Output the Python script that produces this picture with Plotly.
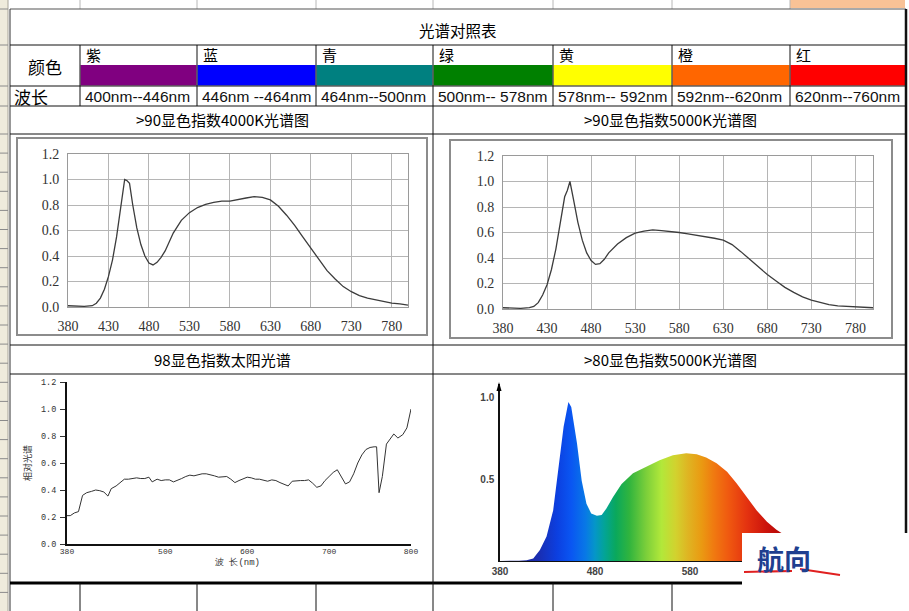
import plotly.graph_objects as go

W, H = 909, 611

# ---------------- table texts ----------------
table_title = "光谱对照表"
color_label = "颜色"
wave_label = "波长"
color_names = ["紫", "蓝", "青", "绿", "黄", "橙", "红"]
swatch_colors = ["#800080", "#0000ff", "#008080", "#008000", "#ffff00", "#ff6600", "#ff0000"]
wave_ranges = ["400nm--446nm", "446nm --464nm", "464nm--500nm", "500nm-- 578nm",
               "578nm-- 592nm", "592nm--620nm", "620nm--760nm"]
chart_titles = [">90显色指数4000K光谱图", ">90显色指数5000K光谱图",
                "98显色指数太阳光谱", ">80显色指数5000K光谱图"]

# ---------------- chart data ----------------
wl_4000k = [380, 390, 400, 410, 415, 420, 425, 430, 435, 440, 445, 450, 453, 456, 460, 465, 470, 475,
            480, 485, 490, 495, 500, 510, 520, 530, 540, 550, 560, 570, 580, 590, 600, 610, 620, 630,
            640, 650, 660, 670, 680, 690, 700, 710, 720, 730, 740, 750, 760, 770, 780, 790, 800]
val_4000k = [0.01, 0.005, 0.005, 0.01, 0.03, 0.07, 0.14, 0.24, 0.37, 0.55, 0.78, 1.0, 0.99, 0.97,
             0.8, 0.62, 0.49, 0.40, 0.345, 0.33, 0.35, 0.39, 0.44, 0.58, 0.68, 0.74, 0.78, 0.805,
             0.82, 0.83, 0.83, 0.845, 0.855, 0.865, 0.86, 0.84, 0.79, 0.72, 0.64, 0.55, 0.46, 0.37,
             0.285, 0.22, 0.16, 0.12, 0.09, 0.07, 0.055, 0.04, 0.03, 0.025, 0.015]

wl_5000k = [380, 390, 400, 410, 415, 420, 425, 430, 435, 440, 445, 450, 453, 456, 460, 465, 470, 475,
            480, 485, 490, 495, 500, 510, 520, 530, 540, 550, 560, 570, 580, 590, 600, 610, 620, 630,
            640, 650, 660, 670, 680, 690, 700, 710, 720, 730, 740, 750, 760, 770, 780, 790, 800]
val_5000k = [0.01, 0.005, 0.005, 0.01, 0.02, 0.05, 0.11, 0.19, 0.31, 0.47, 0.66, 0.88, 0.93, 1.0,
             0.86, 0.68, 0.54, 0.44, 0.38, 0.35, 0.355, 0.39, 0.44, 0.51, 0.56, 0.595, 0.61, 0.62,
             0.615, 0.61, 0.60, 0.59, 0.58, 0.57, 0.555, 0.54, 0.505, 0.45, 0.39, 0.33, 0.27, 0.22,
             0.17, 0.13, 0.095, 0.07, 0.05, 0.035, 0.025, 0.02, 0.015, 0.012, 0.01]

wl_sun = [380, 384, 389, 394, 399, 404, 410, 415, 420, 425, 430, 434, 440, 445, 450, 455, 460, 465,
          470, 475, 480, 484, 490, 495, 500, 505, 510, 515, 520, 525, 530, 535, 540, 545, 550, 555,
          560, 565, 570, 575, 580, 585, 590, 595, 600, 605, 610, 615, 620, 625, 630, 635, 640, 645,
          650, 655, 660, 665, 670, 675, 680, 685, 690, 695, 700, 705, 710, 715, 720, 725, 730, 735,
          740, 745, 750, 755, 758, 761, 765, 770, 775, 779, 784, 790, 795, 800]
val_sun = [0.21, 0.21, 0.23, 0.24, 0.36, 0.38, 0.39, 0.40, 0.395, 0.385, 0.355, 0.41, 0.43, 0.455,
           0.48, 0.48, 0.485, 0.49, 0.485, 0.485, 0.495, 0.46, 0.48, 0.47, 0.475, 0.475, 0.46, 0.47,
           0.485, 0.50, 0.51, 0.505, 0.515, 0.52, 0.52, 0.515, 0.505, 0.495, 0.495, 0.50, 0.48,
           0.455, 0.47, 0.485, 0.495, 0.49, 0.48, 0.48, 0.47, 0.465, 0.475, 0.47, 0.455, 0.445,
           0.43, 0.465, 0.47, 0.47, 0.47, 0.475, 0.45, 0.42, 0.43, 0.47, 0.50, 0.53, 0.55, 0.50,
           0.445, 0.46, 0.52, 0.60, 0.66, 0.70, 0.715, 0.72, 0.72, 0.38, 0.50, 0.74, 0.78, 0.815,
           0.785, 0.81, 0.86, 1.0]

wl_80 = [380, 390, 400, 408, 415, 422, 429, 436, 441, 447, 452, 455, 461, 466, 471, 476, 482, 487,
         492, 499, 508, 520, 534, 548, 562, 576, 587, 597, 608, 619, 629, 640, 650, 661, 671, 682,
         690, 700, 710, 720, 730, 740, 750, 760, 770, 780]
val_80 = [0.0, 0.0, 0.002, 0.005, 0.016, 0.067, 0.15, 0.31, 0.555, 0.82, 0.97, 0.94, 0.72, 0.49,
          0.35, 0.29, 0.276, 0.28, 0.32, 0.39, 0.47, 0.535, 0.575, 0.615, 0.646, 0.657, 0.652, 0.632,
          0.596, 0.545, 0.474, 0.39, 0.31, 0.24, 0.19, 0.15, 0.118, 0.085, 0.06, 0.04, 0.025, 0.015,
          0.01, 0.005, 0.003, 0.0]

# tick labels
yticks_12 = [0, 0.2, 0.4, 0.6, 0.8, 1.0, 1.2]
yticktext_12 = ["0.0", "0.2", "0.4", "0.6", "0.8", "1.0", "1.2"]
xticks_a = [380, 430, 480, 530, 580, 630, 680, 730, 780]
xticks_sun = [380, 500, 600, 700, 800]
xticks_80 = [380, 480, 580]
yticks_80 = [0.5, 1.0]
yticktext_80 = ["0.5", "1.0"]
sun_xtitle = "波 长(nm)"
sun_ytitle = "相对光谱"
watermark = "航向"

# spectrum gradient (style)
grad_scale = [
    [0.000, "#1b1f86"], [0.100, "#1a2db0"], [0.150, "#0c3fe0"], [0.1875, "#0a56f2"],
    [0.225, "#0878e6"], [0.250, "#0596c8"], [0.2750, "#03a496"], [0.305, "#0aa85c"],
    [0.3400, "#30b43e"], [0.385, "#7ccf3a"], [0.425, "#b2e83a"], [0.4625, "#d2d22e"],
    [0.495, "#dfb422"], [0.530, "#ea9a12"], [0.5625, "#f07a10"], [0.600, "#f05a10"],
    [0.650, "#e43210"], [0.700, "#cc140c"], [0.750, "#b00606"], [0.800, "#9c0000"],
    [1.000, "#800000"]]

# ---------------- helpers ----------------
def fx(x):
    return x / W


def fy(y):
    return 1 - y / H


shapes = []
annotations = []


def line(x0, y0, x1, y1, color="#000", width=1, layer="above"):
    shapes.append(dict(type="line", xref="paper", yref="paper", x0=fx(x0), y0=fy(y0),
                       x1=fx(x1), y1=fy(y1), line=dict(color=color, width=width), layer=layer))


def rect(x0, y0, x1, y1, fill=None, color=None, width=0, layer="below"):
    d = dict(type="rect", xref="paper", yref="paper", x0=fx(x0), y0=fy(y0), x1=fx(x1), y1=fy(y1),
             layer=layer, line=dict(width=width, color=color if color else "rgba(0,0,0,0)"))
    d["fillcolor"] = fill if fill else "rgba(0,0,0,0)"
    shapes.append(d)


def text(x, y, s, size, family="Noto Sans CJK SC", color="#000", xanchor="center", angle=0,
         weight="normal"):
    annotations.append(dict(x=fx(x), y=fy(y), xref="paper", yref="paper", text=s, showarrow=False,
                            xanchor=xanchor, yanchor="middle", textangle=angle,
                            font=dict(size=size, family=family, color=color, weight=weight)))


# ---------------- spreadsheet frame ----------------
col_x = [10, 80, 197, 316, 433, 553, 672, 790, 906]

# left row-header strip
rect(0, 0, 8, H, fill="#efebdc")
line(8, 0, 8, H, color="#a8a49a", width=1)
row_marks = [9, 45, 86, 106, 134] + [134 + 19.1 * k for k in range(1, 25)]
for yy in row_marks:
    if yy < H:
        line(0, yy, 8, yy, color="#8a8a8a", width=1)

# top partial row
for xx in col_x[1:8]:
    line(xx, 0, xx, 9, color="#b8b8b8", width=1)
rect(790, 0, 905, 8, fill="#f9c296")
line(10, 9, 906, 9, color="#555", width=1.2)

# table borders
line(10, 9, 10, 611, color="#333", width=1)
line(906, 9, 906, 533, color="#111", width=2.5)
for yy in [45, 86, 106, 134, 345, 374]:
    line(10, yy, 906, yy, color="#111", width=1)
line(10, 583, 906, 583, color="#000", width=3)
for xx in col_x[1:8]:
    line(xx, 45, xx, 106, color="#111", width=1)
line(433, 106, 433, 583, color="#111", width=1)
for xx in col_x[1:7]:
    line(xx, 583, xx, 611, color="#111", width=1)

# colour swatches and labels
for i in range(7):
    x0, x1 = col_x[i + 1], col_x[i + 2]
    rect(x0 + 0.5, 65, x1 - 0.5, 85.5, fill=swatch_colors[i])
    text(x0 + 4, 54, color_names[i], 15, xanchor="left")
    text(x0 + 3, 96, wave_ranges[i], 15.5, family="Liberation Sans", color="#111", xanchor="left")

text(458, 30, table_title, 15.5)
text(45, 66, color_label, 17)
text(12, 96, wave_label, 17, xanchor="left")

text(222, 120, chart_titles[0], 15)
text(670, 120, chart_titles[1], 15)
text(222, 359, chart_titles[2], 15)
text(670, 359, chart_titles[3], 15)

# frames of the two gridded charts
rect(17, 138, 427, 335, color="#8c8c8c", width=2)
rect(450, 140, 892, 338, color="#8c8c8c", width=2)

# sun chart titles
text(237, 562, sun_xtitle, 9, family="Liberation Mono", color="#333")
text(27, 463, sun_ytitle, 9, color="#333", angle=-90)

# arrow on y axis of chart 4
shapes.append(dict(type="path", xref="paper", yref="paper",
                   path="M {} {} L {} {} L {} {} Z".format(fx(496.5), fy(391), fx(499), fy(382),
                                                            fx(501.5), fy(391)),
                   fillcolor="#000", line=dict(width=0), layer="above"))

# watermark patch
rect(742, 533, 909, 611, fill="#ffffff", layer="above")
line(744, 572, 792, 571, color="#e02020", width=2)
line(800, 569, 840, 575, color="#e02020", width=2)
text(784, 558, watermark, 27, color="#1f3f8f", weight="bold")

# ---------------- traces ----------------
fig = go.Figure()
fig.add_trace(go.Scatter(x=wl_4000k, y=val_4000k, mode="lines",
                         line=dict(color="#3c3c3c", width=1.3), xaxis="x", yaxis="y",
                         hoverinfo="skip", showlegend=False))
fig.add_trace(go.Scatter(x=wl_5000k, y=val_5000k, mode="lines",
                         line=dict(color="#3c3c3c", width=1.3), xaxis="x2", yaxis="y2",
                         hoverinfo="skip", showlegend=False))
fig.add_trace(go.Scatter(x=wl_sun, y=val_sun, mode="lines",
                         line=dict(color="#333", width=1), xaxis="x3", yaxis="y3",
                         hoverinfo="skip", showlegend=False))
fig.add_trace(go.Scatter(x=wl_80, y=val_80, mode="lines",
                         line=dict(color="rgba(0,0,0,0)", width=0), fill="tozeroy",
                         fillgradient=dict(type="horizontal", colorscale=grad_scale,
                                           start=380, stop=780),
                         xaxis="x4", yaxis="y4", hoverinfo="skip", showlegend=False))

serif_font = dict(family="Liberation Serif", size=14, color="#333")
mono_font = dict(family="Liberation Mono", size=8.5, color="#333")
bold_font = dict(family="Liberation Sans", size=10, color="#444", weight="bold")


def grid_x(domain, anchor):
    return dict(domain=domain, anchor=anchor, range=[380, 800], tickmode="array",
                tickvals=xticks_a, showgrid=True, gridcolor="#b5b5b5", gridwidth=1,
                showline=True, mirror=True, linecolor="#9a9a9a", linewidth=1, zeroline=False,
                ticks="", tickfont=serif_font, ticklabelstandoff=6, fixedrange=True)


def grid_y(domain, anchor):
    return dict(domain=domain, anchor=anchor, range=[0, 1.2], tickmode="array",
                tickvals=yticks_12, ticktext=yticktext_12, showgrid=True, gridcolor="#b5b5b5",
                gridwidth=1, showline=True, mirror=True, linecolor="#9a9a9a", linewidth=1,
                zeroline=False, ticks="", tickfont=serif_font, ticklabelstandoff=5,
                fixedrange=True)


fig.update_layout(
    width=W, height=H, margin=dict(l=0, r=0, t=0, b=0), autosize=False,
    template="none", paper_bgcolor="#ffffff", plot_bgcolor="rgba(0,0,0,0)",
    showlegend=False, shapes=shapes, annotations=annotations,
    xaxis=grid_x([fx(68), fx(408)], "y"),
    yaxis=grid_y([fy(307), fy(154)], "x"),
    xaxis2=grid_x([fx(503), fx(873)], "y2"),
    yaxis2=grid_y([fy(309), fy(156)], "x2"),
    xaxis3=dict(domain=[fx(67), fx(411)], anchor="y3", range=[380, 800], tickmode="array",
                tickvals=xticks_sun, showgrid=False, zeroline=False, showline=True,
                linecolor="#111", linewidth=1.5, ticks="", tickcolor="#333",
                tickfont=dict(family="Liberation Mono", size=8, color="#333"),
                ticklabelstandoff=-1, fixedrange=True),
    yaxis3=dict(domain=[fy(544), fy(382)], anchor="x3", range=[0, 1.2], tickmode="array",
                tickvals=yticks_12, ticktext=yticktext_12, showgrid=False, zeroline=False,
                showline=True, linecolor="#111", linewidth=2, ticks="outside", ticklen=5,
                tickcolor="#333", tickfont=mono_font, ticklabelstandoff=2, fixedrange=True),
    xaxis4=dict(domain=[fx(500), fx(880)], anchor="y4", range=[380, 780], tickmode="array",
                tickvals=xticks_80, showgrid=False, zeroline=False, showline=True,
                linecolor="#111", linewidth=1, ticks="", tickfont=bold_font,
                ticklabelstandoff=1, fixedrange=True),
    yaxis4=dict(domain=[fy(561), fy(384)], anchor="x4", range=[0, 1.08], tickmode="array",
                tickvals=yticks_80, ticktext=yticktext_80, showgrid=False, zeroline=False,
                showline=True, linecolor="#111", linewidth=1.5, ticks="",
                tickfont=bold_font, ticklabelstandoff=2, fixedrange=True),
)

fig.write_html("out.html", config={"displayModeBar": False})
